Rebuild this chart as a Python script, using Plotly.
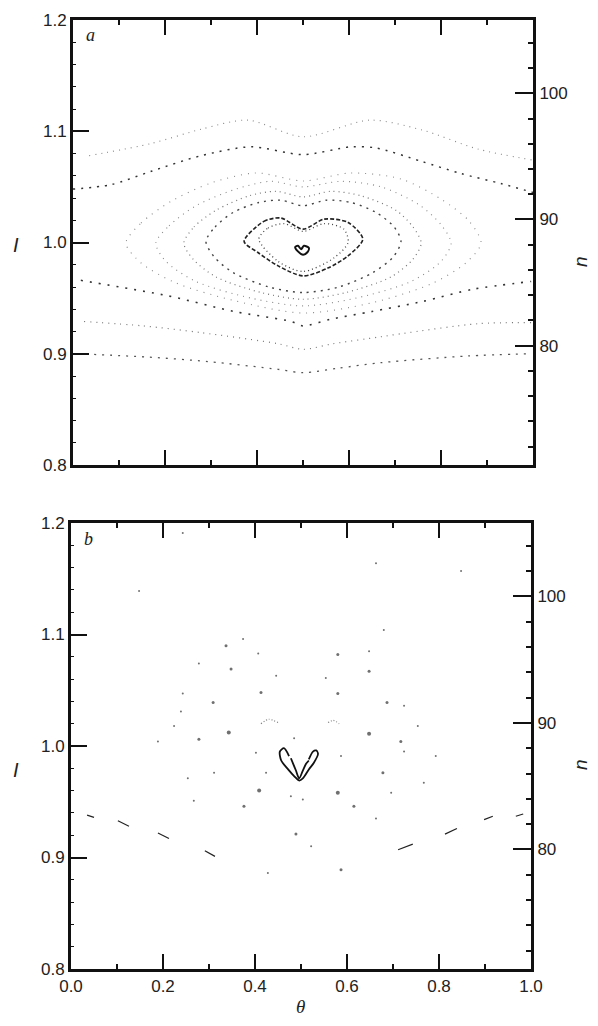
import plotly.graph_objects as go

# ---------------- Panel a : invariant curves (theta, I) ----------------
t1_theta = [0.035, 0.17, 0.28, 0.38, 0.5, 0.645, 0.76, 0.88, 1.0]
t1_I = [1.078, 1.089, 1.102, 1.110, 1.095, 1.110, 1.101, 1.084, 1.074]

t2_theta = [0.0, 0.083, 0.17, 0.278, 0.387, 0.5, 0.604, 0.659, 0.757, 0.843, 0.93, 1.0]
t2_I = [1.048, 1.052, 1.064, 1.078, 1.086, 1.079, 1.086, 1.085, 1.073, 1.062, 1.053, 1.045]

b3_theta = [0.017, 0.207, 0.35, 0.474, 0.5, 0.56, 0.65, 0.76, 0.87, 0.996]
b3_I = [0.966, 0.952, 0.938, 0.929, 0.925, 0.931, 0.938, 0.947, 0.958, 0.965]

b4_theta = [0.024, 0.154, 0.278, 0.446, 0.5, 0.565, 0.665, 0.713, 0.88, 0.996]
b4_I = [0.929, 0.925, 0.919, 0.909, 0.904, 0.909, 0.915, 0.918, 0.927, 0.928]

b5_theta = [0.011, 0.163, 0.293, 0.446, 0.5, 0.576, 0.67, 0.859, 0.996]
b5_I = [0.900, 0.897, 0.893, 0.886, 0.883, 0.887, 0.892, 0.898, 0.900]

l1_theta = [0.115, 0.148, 0.213, 0.300, 0.398, 0.500, 0.604, 0.713, 0.800, 0.861, 0.887,
            0.854, 0.778, 0.648, 0.500, 0.354, 0.224, 0.148, 0.115]
l1_I = [0.9995, 1.0175, 1.037, 1.0535, 1.0625, 1.0553, 1.0625, 1.0571, 1.039, 1.0193, 0.9995,
        0.9816, 0.9627, 0.9456, 0.9366, 0.9474, 0.9636, 0.9816, 0.9995]

l2_theta = [0.180, 0.209, 0.267, 0.354, 0.430, 0.500, 0.583, 0.670, 0.752, 0.800, 0.822,
            0.800, 0.735, 0.615, 0.500, 0.387, 0.267, 0.202, 0.180]
l2_I = [0.9995, 1.015, 1.033, 1.048, 1.055, 1.050, 1.055, 1.050, 1.034, 1.016, 0.9995,
        0.983, 0.965, 0.950, 0.943, 0.950, 0.965, 0.983, 0.9995]

l3_theta = [0.241, 0.263, 0.311, 0.383, 0.441, 0.500, 0.561, 0.626, 0.702, 0.739, 0.757,
            0.739, 0.691, 0.593, 0.500, 0.409, 0.311, 0.261, 0.241]
l3_I = [0.9995, 1.014, 1.029, 1.042, 1.046, 1.041, 1.046, 1.042, 1.029, 1.014, 0.9995,
        0.985, 0.969, 0.955, 0.949, 0.955, 0.969, 0.985, 0.9995]

l4_theta = [0.289, 0.309, 0.348, 0.404, 0.452, 0.500, 0.550, 0.604, 0.659, 0.698, 0.713,
            0.696, 0.652, 0.578, 0.500, 0.426, 0.348, 0.307, 0.289]
l4_I = [1.001, 1.014, 1.027, 1.036, 1.038, 1.033, 1.038, 1.036, 1.027, 1.014, 1.001,
        0.987, 0.973, 0.960, 0.955, 0.960, 0.973, 0.987, 1.001]

h1_theta = [0.372, 0.415, 0.452, 0.5, 0.546, 0.598, 0.630, 0.598, 0.554, 0.5, 0.446, 0.402, 0.372]
h1_I = [1.001, 1.019, 1.022, 1.012, 1.021, 1.018, 1.003, 0.988, 0.977, 0.970, 0.979, 0.991, 1.001]

h2_theta = [0.404, 0.424, 0.459, 0.5, 0.546, 0.589, 0.598, 0.567, 0.5, 0.446, 0.404]
h2_I = [1.003, 1.013, 1.017, 1.010, 1.017, 1.012, 1.000, 0.986, 0.974, 0.983, 1.003]

h3_theta = [0.483, 0.489, 0.496, 0.502, 0.513, 0.509, 0.5, 0.489, 0.483]
h3_I = [0.996, 0.997, 0.994, 0.997, 0.995, 0.991, 0.989, 0.992, 0.996]

# ---------------- Panel b : chaotic section ----------------
vdash_theta0 = [0.035, 0.102, 0.189, 0.291, 0.711, 0.813, 0.898, 0.967]
vdash_I0 = [0.938, 0.933, 0.922, 0.906, 0.907, 0.921, 0.934, 0.937]
vdash_theta1 = [0.050, 0.126, 0.213, 0.313, 0.743, 0.839, 0.917, 0.983]
vdash_I1 = [0.936, 0.928, 0.917, 0.901, 0.912, 0.926, 0.937, 0.939]

scat_theta = [0.243, 0.148, 0.374, 0.337, 0.407, 0.278, 0.348, 0.446, 0.243, 0.413, 0.309,
              0.239, 0.224, 0.343, 0.278, 0.189, 0.402, 0.485, 0.663, 0.848, 0.680, 0.580,
              0.648, 0.648, 0.554, 0.580, 0.687, 0.724, 0.754, 0.648, 0.717, 0.793, 0.587,
              0.254, 0.311, 0.267, 0.409, 0.376, 0.489, 0.428, 0.580, 0.615, 0.663, 0.767,
              0.678, 0.522, 0.587, 0.504, 0.478, 0.424, 0.696, 0.724]
scat_I = [1.191, 1.139, 1.096, 1.090, 1.083, 1.074, 1.069, 1.063, 1.047, 1.048, 1.039,
          1.031, 1.018, 1.012, 1.006, 1.004, 0.994, 1.007, 1.164, 1.157, 1.104, 1.082,
          1.085, 1.067, 1.061, 1.047, 1.039, 1.036, 1.018, 1.011, 1.004, 0.991, 0.991,
          0.971, 0.976, 0.951, 0.960, 0.946, 0.921, 0.886, 0.958, 0.946, 0.935, 0.967,
          0.976, 0.910, 0.889, 0.952, 0.955, 0.976, 0.958, 0.995]
scat_size = [2, 2, 2, 3, 2, 2, 3, 2, 2, 3, 3,
             2, 2, 4, 3, 2, 2, 2, 2, 2, 2, 3,
             2, 3, 2, 3, 3, 2, 2, 4, 3, 2, 2,
             2, 2, 2, 4, 3, 3, 2, 4, 3, 2, 2,
             3, 2, 3, 2, 2, 2, 2, 2]

arcl_theta = [0.413, 0.430, 0.450]
arcl_I = [1.020, 1.024, 1.021]
arcr_theta = [0.559, 0.570, 0.583]
arcr_I = [1.021, 1.023, 1.020]

hb_out_theta = [0.474, 0.463, 0.454, 0.457, 0.472, 0.485, 0.496, 0.504, 0.517, 0.528, 0.537,
                0.533, 0.526, 0.517]
hb_out_I = [0.991, 0.998, 0.995, 0.987, 0.979, 0.973, 0.969, 0.971, 0.979, 0.985, 0.993,
            0.996, 0.995, 0.988]
hb_in_theta = [0.478, 0.483, 0.489, 0.496, 0.504, 0.511, 0.517]
hb_in_I = [0.989, 0.984, 0.978, 0.971, 0.978, 0.984, 0.987]

# axis tick values
x_ticks = [0.0, 0.2, 0.4, 0.6, 0.8, 1.0]
I_ticks = [0.8, 0.9, 1.0, 1.1, 1.2]
n_ticks = [80, 90, 100]
I_per_n = 0.011341

# page is 598x1026 with an 8px body margin -> figure 582x1010, offset 8px
OFF = 8
W, H = 598 - 2 * OFF, 1026 - 2 * OFF
FONT = "Liberation Sans, Arial, sans-serif"


def px_x(p):
    return (p - OFF) / W


def px_y(p):
    return 1 - (p - OFF) / H


fig = go.Figure()


def curve(th, I, xa, ya, dash, width=1.4, color="#333", shape="spline"):
    fig.add_trace(go.Scatter(x=th, y=I, mode="lines", xaxis=xa, yaxis=ya,
                             line=dict(color=color, width=width, dash=dash, shape=shape,
                                       smoothing=0.8),
                             hoverinfo="skip", showlegend=False))


# panel a curves
curve(t1_theta, t1_I, "x", "y", "1px,5px", 1.1, "#888")
curve(t2_theta, t2_I, "x", "y", "2px,6px", 1.5, "#333")
curve(b3_theta, b3_I, "x", "y", "2px,7px", 1.6, "#333")
curve(b4_theta, b4_I, "x", "y", "1px,5px", 1.2, "#777")
curve(b5_theta, b5_I, "x", "y", "2px,6px", 1.3, "#555")
curve(l1_theta, l1_I, "x", "y", "1px,6px", 1.1, "#888")
curve(l2_theta, l2_I, "x", "y", "1px,5px", 1.1, "#888")
curve(l3_theta, l3_I, "x", "y", "1px,4px", 1.2, "#777")
curve(l4_theta, l4_I, "x", "y", "2px,5px", 1.4, "#444")
curve(h1_theta, h1_I, "x", "y", "4px,2px", 1.6, "#222")
curve(h2_theta, h2_I, "x", "y", "1px,3px", 1.3, "#444")
curve(h3_theta, h3_I, "x", "y", "solid", 2.0, "#111")
fig.add_trace(go.Scatter(x=[None], y=[None], xaxis="x", yaxis="y2", showlegend=False))

# panel b
vx, vy = [], []
for a0, b0, a1, b1 in zip(vdash_theta0, vdash_I0, vdash_theta1, vdash_I1):
    vx += [a0, a1, None]
    vy += [b0, b1, None]
fig.add_trace(go.Scatter(x=vx, y=vy, mode="lines", xaxis="x2", yaxis="y3",
                         line=dict(color="#222", width=1.2), showlegend=False,
                         hoverinfo="skip"))
fig.add_trace(go.Scatter(x=scat_theta, y=scat_I, mode="markers", xaxis="x2", yaxis="y3",
                         marker=dict(color="#333", size=scat_size, line=dict(width=0)),
                         showlegend=False, hoverinfo="skip"))
curve(arcl_theta, arcl_I, "x2", "y3", "1px,2px", 1.1, "#777")
curve(arcr_theta, arcr_I, "x2", "y3", "1px,2px", 1.1, "#777")
curve(hb_out_theta, hb_out_I, "x2", "y3", "solid", 1.8, "#111")
curve(hb_in_theta, hb_in_I, "x2", "y3", "solid", 1.8, "#111")
fig.add_trace(go.Scatter(x=[None], y=[None], xaxis="x2", yaxis="y4", showlegend=False))

ax_common = dict(showgrid=False, zeroline=False, showline=True, linecolor="#111",
                 linewidth=3, ticks="inside", tickcolor="#111", tickwidth=2,
                 automargin=False,
                 tickfont=dict(family=FONT, size=17, color="#222"))

xa = dict(ax_common, range=[0, 1], tickvals=x_ticks, ticktext=[f"{v:.1f}" for v in x_ticks],
          ticklen=15, mirror="ticks",
          minor=dict(dtick=0.1, tick0=0, ticklen=5, ticks="inside", tickcolor="#111",
                     tickwidth=1.5))
ya = dict(ax_common, range=[0.8, 1.2], tickvals=I_ticks,
          ticktext=[f"{v:.1f}" for v in I_ticks], ticklen=16,
          minor=dict(dtick=0.02, tick0=0.8, ticklen=3, ticks="inside", tickcolor="#111",
                     tickwidth=1))
yn = dict(ax_common, range=[0.8 / I_per_n, 1.2 / I_per_n], tickvals=n_ticks, ticklen=18,
          side="right",
          minor=dict(dtick=2, tick0=0, ticklen=5, ticks="inside", tickcolor="#111",
                     tickwidth=1.5))

dxa = [px_x(73), px_x(533)]
dya = [px_y(465), px_y(20)]
dxb = [px_x(71), px_x(531)]
dyb = [px_y(969), px_y(523)]

fig.update_layout(
    template="none",
    width=W, height=H, margin=dict(l=0, r=0, t=0, b=0, pad=0, autoexpand=False),
    paper_bgcolor="white", plot_bgcolor="white",
    xaxis=dict(xa, domain=dxa, anchor="y", showticklabels=False),
    yaxis=dict(ya, domain=dya, anchor="x"),
    yaxis2=dict(yn, domain=dya, anchor="x", overlaying="y"),
    xaxis2=dict(xa, domain=dxb, anchor="y3"),
    yaxis3=dict(ya, domain=dyb, anchor="x2"),
    yaxis4=dict(yn, domain=dyb, anchor="x2", overlaying="y3"),
)

SERIF = "Liberation Serif, serif"
anns = [
    dict(text="<i>I</i>", x=px_x(16), y=px_y(245), font=dict(family=FONT, size=20)),
    dict(text="<i>I</i>", x=px_x(16), y=px_y(770), font=dict(family=FONT, size=20)),
    dict(text="<i>n</i>", x=px_x(580), y=px_y(262), textangle=-90, font=dict(family=FONT, size=19)),
    dict(text="<i>n</i>", x=px_x(580), y=px_y(765), textangle=-90, font=dict(family=FONT, size=19)),
    dict(text="<i>θ</i>", x=px_x(300), y=px_y(1006), font=dict(family=SERIF, size=19)),
    dict(text="<i>a</i>", x=px_x(90), y=px_y(35), font=dict(family=SERIF, size=18)),
    dict(text="<i>b</i>", x=px_x(88), y=px_y(539), font=dict(family=SERIF, size=18)),
]
for a in anns:
    a.update(xref="paper", yref="paper", showarrow=False, xanchor="center", yanchor="middle")
    a["font"]["color"] = "#222"
fig.update_layout(annotations=anns)

fig.write_html("out.html")
